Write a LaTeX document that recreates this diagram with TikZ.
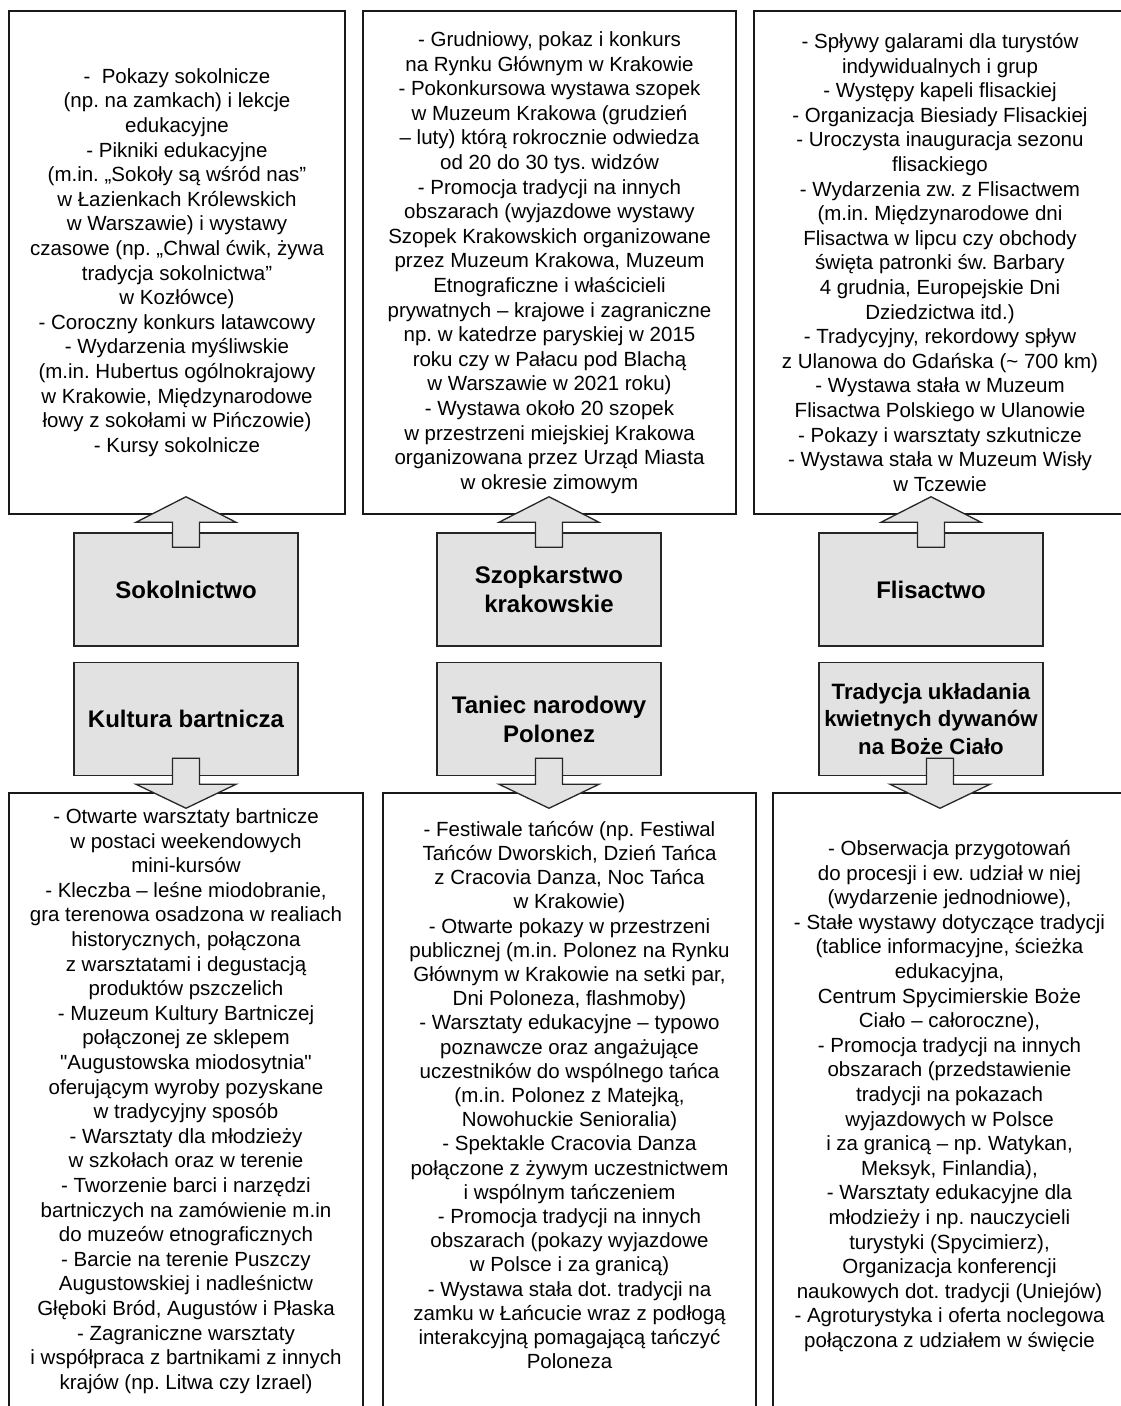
\documentclass[tikz,border=0pt]{standalone}
\usepackage{fontspec}
\setmainfont{Liberation Sans}
\definecolor{blockgray}{RGB}{226,226,226}
\frenchspacing

\begin{document}
\begin{tikzpicture}[x=1pt, y=-1pt,
    frame/.style={rectangle, draw=black!90, line width=1.5pt, align=center,
      font=\fontsize{20.5}{24.6}\selectfont},
    txt/.style={align=center, font=\fontsize{20.5}{24.6}\selectfont},
    block/.style={rectangle, draw=black!85, fill=blockgray, line width=1.5pt,
      minimum width=224pt, minimum height=113pt, align=center,
      font=\fontsize{24}{29}\selectfont\bfseries},
    blockarr/.style={draw=black!85, fill=blockgray, line width=1.3pt, line join=miter}
    ]
    \useasboundingbox (0,0) rectangle (1121,1406);
    \clip (0,0) rectangle (1121,1406);

    % upper frames
    \node[frame, minimum width=336pt, minimum height=503pt] (sokolBox) at (177,262.5) {%
      -\ \ Pokazy sokolnicze\\
      (np. na zamkach) i lekcje\\
      edukacyjne\\
      - Pikniki edukacyjne\\
      (m.in. „Sokoły są wśród nas”\\
      w Łazienkach Królewskich\\
      w Warszawie) i wystawy\\
      czasowe (np. „Chwal ćwik, żywa\\
      tradycja sokolnictwa”\\
      w Kozłówce)\\
      - Coroczny konkurs latawcowy\\
      - Wydarzenia myśliwskie\\
      (m.in. Hubertus ogólnokrajowy\\
      w Krakowie, Międzynarodowe\\
      łowy z sokołami w Pińczowie)\\
      - Kursy sokolnicze};
    \node[frame, minimum width=373pt, minimum height=503pt] (szopBox) at (549.5,262.5) {%
      - Grudniowy, pokaz i konkurs\\
      na Rynku Głównym w Krakowie\\
      - Pokonkursowa wystawa szopek\\
      w Muzeum Krakowa (grudzień\\
      – luty) którą rokrocznie odwiedza\\
      od 20 do 30 tys. widzów\\
      - Promocja tradycji na innych\\
      obszarach (wyjazdowe wystawy\\
      Szopek Krakowskich organizowane\\
      przez Muzeum Krakowa, Muzeum\\
      Etnograficzne i właścicieli\\
      prywatnych – krajowe i zagraniczne\\
      np. w katedrze paryskiej w 2015\\
      roku czy w Pałacu pod Blachą\\
      w Warszawie w 2021 roku)\\
      - Wystawa około 20 szopek\\
      w przestrzeni miejskiej Krakowa\\
      organizowana przez Urząd Miasta\\
      w okresie zimowym};
    \node[frame, minimum width=372pt, minimum height=503pt] (flisBox) at (940,262.5) {%
      - Spływy galarami dla turystów\\
      indywidualnych i grup\\
      - Występy kapeli flisackiej\\
      - Organizacja Biesiady Flisackiej\\
      - Uroczysta inauguracja sezonu\\
      flisackiego\\
      - Wydarzenia zw. z Flisactwem\\
      (m.in. Międzynarodowe dni\\
      Flisactwa w lipcu czy obchody\\
      święta patronki św. Barbary\\
      4 grudnia, Europejskie Dni\\
      Dziedzictwa itd.)\\
      - Tradycyjny, rekordowy spływ\\
      z Ulanowa do Gdańska (\textasciitilde\ 700 km)\\
      - Wystawa stała w Muzeum\\
      Flisactwa Polskiego w Ulanowie\\
      - Pokazy i warsztaty szkutnicze\\
      - Wystawa stała w Muzeum Wisły\\
      w Tczewie};

    % lower frames
    \node[frame, minimum width=354pt, minimum height=640pt] (bartBox) at (186,1113) {};
    \node[frame, minimum width=373pt, minimum height=640pt] (polBox) at (569.5,1113) {};
    \node[frame, minimum width=353pt, minimum height=640pt] (dywBox) at (949.5,1113) {};
    \node[txt] (bartTxt) at (186,1101) {%
      - Otwarte warsztaty bartnicze\\
      w postaci weekendowych\\
      mini-kursów\\
      - Kleczba – leśne miodobranie,\\
      gra terenowa osadzona w realiach\\
      historycznych, połączona\\
      z warsztatami i degustacją\\
      produktów pszczelich\\
      - Muzeum Kultury Bartniczej\\
      połączonej ze sklepem\\
      \textquotedbl Augustowska miodosytnia\textquotedbl\\
      oferującym wyroby pozyskane\\
      w tradycyjny sposób\\
      - Warsztaty dla młodzieży\\
      w szkołach oraz w terenie\\
      - Tworzenie barci i narzędzi\\
      bartniczych na zamówienie m.in\\
      do muzeów etnograficznych\\
      - Barcie na terenie Puszczy\\
      Augustowskiej i nadleśnictw\\
      Głęboki Bród, Augustów i Płaska\\
      - Zagraniczne warsztaty\\
      i współpraca z bartnikami z innych\\
      krajów (np. Litwa czy Izrael)};
    \node[txt, font=\fontsize{20.5}{24.2}\selectfont] (polTxt) at (569.5,1095) {%
      - Festiwale tańców (np. Festiwal\\
      Tańców Dworskich, Dzień Tańca\\
      z Cracovia Danza, Noc Tańca\\
      w Krakowie)\\
      - Otwarte pokazy w przestrzeni\\
      publicznej (m.in. Polonez na Rynku\\
      Głównym w Krakowie na setki par,\\
      Dni Poloneza, flashmoby)\\
      - Warsztaty edukacyjne – typowo\\
      poznawcze oraz angażujące\\
      uczestników do wspólnego tańca\\
      (m.in. Polonez z Matejką,\\
      Nowohuckie Senioralia)\\
      - Spektakle Cracovia Danza\\
      połączone z żywym uczestnictwem\\
      i wspólnym tańczeniem\\
      - Promocja tradycji na innych\\
      obszarach (pokazy wyjazdowe\\
      w Polsce i za granicą)\\
      - Wystawa stała dot. tradycji na\\
      zamku w Łańcucie wraz z podłogą\\
      interakcyjną pomagającą tańczyć\\
      Poloneza};
    \node[txt] (dywTxt) at (949.5,1096) {%
      - Obserwacja przygotowań\\
      do procesji i ew. udział w niej\\
      (wydarzenie jednodniowe),\\
      - Stałe wystawy dotyczące tradycji\\
      (tablice informacyjne, ścieżka\\
      edukacyjna,\\
      Centrum Spycimierskie Boże\\
      Ciało – całoroczne),\\
      - Promocja tradycji na innych\\
      obszarach (przedstawienie\\
      tradycji na pokazach\\
      wyjazdowych w Polsce\\
      i za granicą – np. Watykan,\\
      Meksyk, Finlandia),\\
      - Warsztaty edukacyjne dla\\
      młodzieży i np. nauczycieli\\
      turystyki (Spycimierz),\\
      Organizacja konferencji\\
      naukowych dot. tradycji (Uniejów)\\
      - Agroturystyka i oferta noclegowa\\
      połączona z udziałem w święcie};

    % traditions
    \node[block] (sok) at (186,589.5) {Sokolnictwo};
    \node[block] (szo) at (549,589.5) {Szopkarstwo\\krakowskie};
    \node[block] (fli) at (931,589.5) {Flisactwo};
    \node[block] (bart) at (186,719) {Kultura bartnicza};
    \node[block] (tan) at (549,719) {Taniec narodowy\\Polonez};
    \node[block, font=\fontsize{22.2}{27.5}\selectfont\bfseries] (dyw) at (931,719)
      {Tradycja układania\\kwietnych dywanów\\na Boże Ciało};

    % block arrows
    \foreach \g/\b in {sok/sokolBox, szo/szopBox, fli/flisBox}
      \draw[blockarr] ([xshift=-13.5pt,yshift=-15pt]\g.north)
        |- ([xshift=-50pt,yshift=10pt]\g.north)
        -- ([yshift=18pt]\b.south -| \g.north)
        -- ([xshift=50pt,yshift=10pt]\g.north)
        -| ([xshift=13.5pt,yshift=-15pt]\g.north) -- cycle;
    \foreach \g/\b/\dx in {bart/bartBox/0pt, tan/polBox/0pt, dyw/dywBox/9pt}
      \draw[blockarr] ([xshift=\dx-13.5pt,yshift=18pt]\g.south)
        |- ([xshift=\dx-50pt,yshift=-8pt]\g.south)
        -- ([xshift=\dx,yshift=-16pt]\b.north -| \g.south)
        -- ([xshift=\dx+50pt,yshift=-8pt]\g.south)
        -| ([xshift=\dx+13.5pt,yshift=18pt]\g.south) -- cycle;
  \end{tikzpicture}
\end{document}
